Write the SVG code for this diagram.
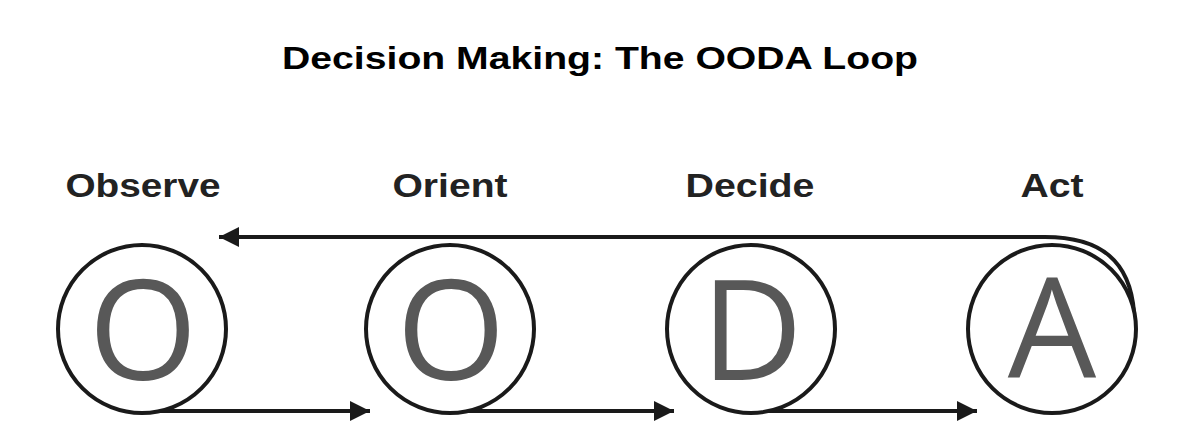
<svg xmlns="http://www.w3.org/2000/svg" width="1200" height="440" viewBox="0 0 1200 440">
  <style>
    .title { font-family: "Liberation Sans", Arial, sans-serif; font-weight: bold; font-size: 32px; fill: #000; }
    .label { font-family: "Liberation Sans", Arial, sans-serif; font-weight: bold; font-size: 33px; fill: #222; }
    .letter { font-family: "Open Sans", "Noto Sans", sans-serif; font-size: 140px; fill: #585858; }
    .ring { fill: #fff; stroke: #1a1a1a; stroke-width: 4; }
    .conn { fill: none; stroke: #1a1a1a; stroke-width: 4; }
  </style>
  <defs>
    <marker id="arrow" markerUnits="userSpaceOnUse" markerWidth="22" markerHeight="22" viewBox="0 0 22 22" refX="20" refY="11" orient="auto">
      <path d="M0,1 L20,11 L0,21 Z" fill="#1a1a1a"/>
    </marker>
  </defs>
  <rect width="1200" height="440" fill="#fff"/>
  <text class="title" x="600" y="69" text-anchor="middle" textLength="636" lengthAdjust="spacingAndGlyphs">Decision Making: The OODA Loop</text>

  <g id="connectors">
    <path class="conn" d="M142,411 H370" marker-end="url(#arrow)"/>
    <path class="conn" d="M450,411 H674" marker-end="url(#arrow)"/>
    <path class="conn" d="M751,411 H977" marker-end="url(#arrow)"/>
    <path class="conn" d="M1134,312 C1130,262 1102,237 1045,237 H219" marker-end="url(#arrow)"/>
  </g>

  <g id="observe">
    <circle class="ring" cx="142" cy="329" r="84"/>
    <text class="letter" x="143" y="380" text-anchor="middle">O</text>
    <text class="label" x="143" y="197" text-anchor="middle" textLength="155" lengthAdjust="spacingAndGlyphs">Observe</text>
  </g>
  <g id="orient">
    <circle class="ring" cx="450" cy="329" r="84"/>
    <text class="letter" x="451" y="380" text-anchor="middle">O</text>
    <text class="label" x="450" y="197" text-anchor="middle" textLength="115" lengthAdjust="spacingAndGlyphs">Orient</text>
  </g>
  <g id="decide">
    <circle class="ring" cx="751" cy="329" r="84"/>
    <text class="letter" x="752" y="380" text-anchor="middle">D</text>
    <text class="label" x="750" y="197" text-anchor="middle" textLength="129" lengthAdjust="spacingAndGlyphs">Decide</text>
  </g>
  <g id="act">
    <circle class="ring" cx="1052" cy="329" r="84"/>
    <text class="letter" x="1052" y="378" text-anchor="middle">A</text>
    <text class="label" x="1052" y="197" text-anchor="middle" textLength="63" lengthAdjust="spacingAndGlyphs">Act</text>
  </g>
</svg>
